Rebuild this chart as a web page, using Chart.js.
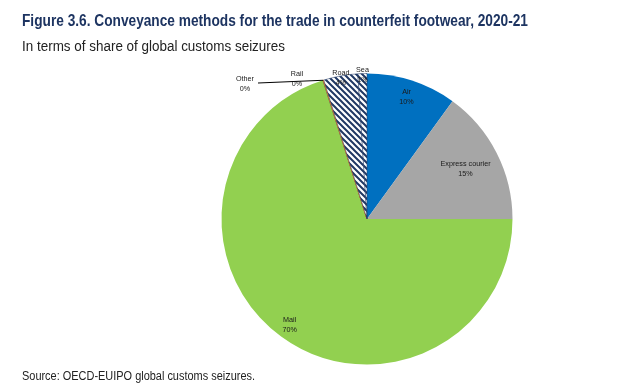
<!DOCTYPE html>
<html>
<head>
<meta charset="utf-8">
<script src="https://cdn.jsdelivr.net/npm/chart.js@4"></script>
<style>
  html, body { margin: 0; padding: 0; background: #fff; }
  #wrap { position: relative; width: 640px; height: 389px; overflow: hidden; }
  canvas { position: absolute; left: 0; top: 0; }
  .txt { position: absolute; left: 22px; white-space: nowrap; transform-origin: 0 0; font-family: "Liberation Sans Narrow", "Arial Narrow", "Liberation Sans", sans-serif; }
  #title { top: 11px; font-size: 17px; font-weight: bold; color: #1d3461; }
  #subtitle { top: 38px; font-size: 14px; color: #222; }
  #source { top: 369px; font-size: 12px; color: #222; }
</style>
</head>
<body>
<div id="wrap">
  <canvas id="chart" width="640" height="389"></canvas>
  <div class="txt" id="title" data-w="506">Figure 3.6. Conveyance methods for the trade in counterfeit footwear, 2020-21</div>
  <div class="txt" id="subtitle" data-w="263">In terms of share of global customs seizures</div>
  <div class="txt" id="source" data-w="233">Source: OECD-EUIPO global customs seizures.</div>
</div>
<script>
"use strict";

const categories = ["Air", "Express courier", "Mail", "Other", "Rail", "Road", "Sea"];
const shares = [10, 15, 70.1, 0.05, 0.05, 3.8, 1];

// squeeze the heading lines to the narrow width of the original
document.querySelectorAll(".txt").forEach((el) => {
  const target = Number(el.dataset.w);
  const w = el.getBoundingClientRect().width;
  if (w > target) el.style.transform = `scaleX(${target / w})`;
});

function stripes() {
  const s = 6;
  const tile = document.createElement("canvas");
  tile.width = s;
  tile.height = s;
  const c = tile.getContext("2d");
  c.fillStyle = "#fff";
  c.fillRect(0, 0, s, s);
  c.strokeStyle = "#203864";
  c.lineWidth = 2;
  c.beginPath();
  c.moveTo(-1, -1); c.lineTo(s + 1, s + 1);
  c.moveTo(-1, s - 1); c.lineTo(1, s + 1);
  c.moveTo(s - 1, -1); c.lineTo(s + 1, 1);
  c.stroke();
  return document.getElementById("chart").getContext("2d").createPattern(tile, "repeat");
}

const hatch = stripes();
const colors = ["#0070c0", "#a6a6a6", "#92d050", "#7f7f7f", "#ed7d31", hatch, hatch];
const borders = ["#0070c0", "#a6a6a6", "#92d050", "#404040", "#ed7d31", "#203864", "#203864"];
const borderWidths = [0, 0, 0, 0.6, 1, 0.5, 0.5];

// where each label sits: fraction of radius along the slice middle, or a fixed spot for tiny slices
const labelRadius = [0.88, 0.76, 0.9, null, null, 0.99, 0.99];
const labelSpots = { 3: { x: 245, y: 79 }, 4: { x: 297, y: 74 } };

const pieLabels = {
  id: "pieLabels",
  afterDatasetsDraw(chart) {
    const ctx = chart.ctx;
    const arcs = chart.getDatasetMeta(0).data;
    ctx.save();
    ctx.font = "8px 'Liberation Sans Narrow', 'Arial Narrow', 'Liberation Sans', sans-serif";
    ctx.fillStyle = "#1a1a1a";
    ctx.textAlign = "center";
    ctx.textBaseline = "middle";

    const write = (text, x, y) => {
      ctx.save();
      ctx.translate(x, y);
      ctx.scale(0.9, 1);
      ctx.fillText(text, 0, 0);
      ctx.restore();
    };

    arcs.forEach((arc, i) => {
      const { x, y, startAngle, endAngle, outerRadius } = arc.getProps(["x", "y", "startAngle", "endAngle", "outerRadius"], true);
      const mid = (startAngle + endAngle) / 2;
      let lx, ly;

      if (labelSpots[i]) {
        lx = labelSpots[i].x;
        ly = labelSpots[i].y;
        if (i === 3) {
          ctx.strokeStyle = "#000";
          ctx.lineWidth = 1;
          ctx.beginPath();
          ctx.moveTo(lx + 13, ly + 4);
          ctx.lineTo(x + Math.cos(mid) * outerRadius, y + Math.sin(mid) * outerRadius);
          ctx.stroke();
        }
      } else {
        lx = x + Math.cos(mid) * outerRadius * labelRadius[i];
        ly = y + Math.sin(mid) * outerRadius * labelRadius[i] - 5;
      }

      write(categories[i], lx, ly);
      write(Math.round(shares[i]) + "%", lx, ly + 10);
    });
    ctx.restore();
  }
};

new Chart(document.getElementById("chart"), {
  type: "pie",
  data: {
    labels: categories,
    datasets: [{
      data: shares,
      backgroundColor: colors,
      borderColor: borders,
      borderWidth: borderWidths
    }]
  },
  options: {
    responsive: false,
    animation: false,
    layout: { padding: { left: 221, right: 127, top: 73, bottom: 24 } },
    plugins: {
      legend: { display: false },
      tooltip: { enabled: false }
    }
  },
  plugins: [pieLabels]
});
</script>
</body>
</html>
